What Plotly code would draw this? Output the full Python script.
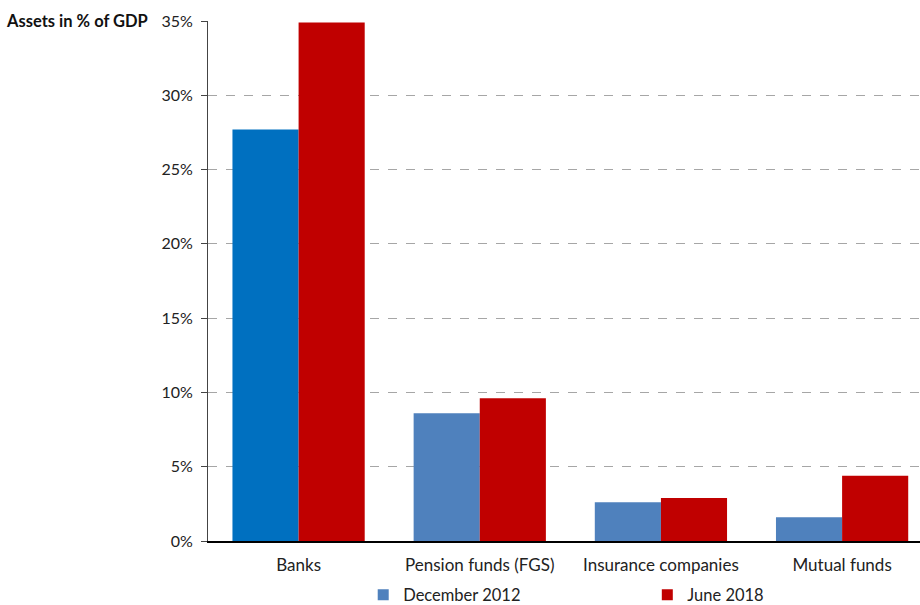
import plotly.graph_objects as go

categories = ["Banks", "Pension funds (FGS)", "Insurance companies", "Mutual funds"]
dec_2012 = [27.7, 8.6, 2.6, 1.6]
jun_2018 = [34.9, 9.6, 2.9, 4.4]
dec_colors = ["#0070C0", "#4F81BD", "#4F81BD", "#4F81BD"]
series_names = ["December 2012", "June 2018"]
y_ticks = [0, 5, 10, 15, 20, 25, 30, 35]
y_labels = [f"{v}%" for v in y_ticks]

FONT = "Lato"

fig = go.Figure()
fig.add_trace(go.Bar(x=categories, y=dec_2012, name=series_names[0], showlegend=False,
                     marker=dict(color=dec_colors, line=dict(width=0))))
fig.add_trace(go.Bar(x=categories, y=jun_2018, name=series_names[1], showlegend=False,
                     marker=dict(color="#C00000", line=dict(width=0))))
# legend entries
fig.add_trace(go.Scatter(x=[None], y=[None], mode="markers", name=series_names[0],
                         marker=dict(symbol="square", size=11, color="#4F81BD"),
                         legend="legend"))
fig.add_trace(go.Scatter(x=[None], y=[None], mode="markers", name=series_names[1],
                         marker=dict(symbol="square", size=11, color="#C00000"),
                         legend="legend2"))

leg_common = dict(orientation="h", y=-0.104, yanchor="middle", xanchor="left",
                  font=dict(size=16.5, family=FONT, color="#222222"), itemwidth=30,
                  bgcolor="rgba(0,0,0,0)", borderwidth=0)

fig.update_layout(
    width=920, height=605,
    margin=dict(l=208, r=0, t=21, b=64, autoexpand=False),
    barmode="group", bargap=0.27, bargroupgap=0,
    plot_bgcolor="white", paper_bgcolor="white",
    font=dict(family=FONT, size=16, color="#222222"),
    showlegend=True,
    legend=dict(x=0.218, **leg_common),
    legend2=dict(x=0.617, **leg_common),
    annotations=[dict(text="<b>Assets in % of GDP</b>", xref="paper", yref="paper",
                      x=-0.287, y=1.0, xanchor="left", yanchor="middle",
                      showarrow=False, font=dict(size=16.5, family=FONT, color="#111111"))],
)
fig.update_xaxes(range=[-0.5, 3.43], showline=True, linecolor="#000000", linewidth=1.5,
                 ticks="", showgrid=False, tickfont=dict(size=17), ticklabelstandoff=8)
fig.update_yaxes(range=[0, 35], tickvals=y_ticks, ticktext=y_labels, showline=True,
                 linecolor="#444444", linewidth=1, ticks="outside", ticklen=6,
                 tickcolor="#444444", showgrid=True, gridcolor="#A6A6A6",
                 griddash="dash", gridwidth=1, zeroline=False, tickfont=dict(size=16),
                 ticklabelstandoff=5)
fig.write_html("out.html")
